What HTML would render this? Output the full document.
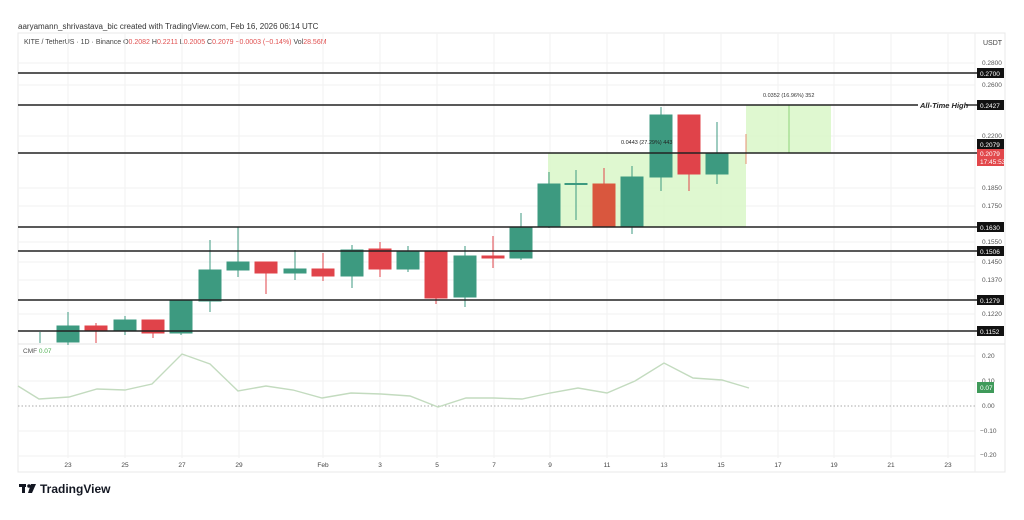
<!DOCTYPE html>
<html><head><meta charset="utf-8"><style>
html,body{margin:0;padding:0;background:#fff;}
svg{display:block;font-family:"Liberation Sans",sans-serif;}
</style></head><body>
<svg width="1024" height="520" viewBox="0 0 1024 520" xmlns="http://www.w3.org/2000/svg">
<rect width="1024" height="520" fill="#fff"/>
<text x="18" y="29" font-size="8" fill="#333">aaryamann_shrivastava_bic created with TradingView.com, Feb 16, 2026 06:14 UTC</text>
<rect x="18" y="33" width="987" height="439" fill="none" stroke="#e8e8e8"/>
<text x="24" y="44" font-size="7" fill="#444">KITE / TetherUS · 1D · Binance  <tspan>O</tspan><tspan fill="#e05050">0.2082</tspan>  H<tspan fill="#e05050">0.2211</tspan>  L<tspan fill="#e05050">0.2005</tspan>  C<tspan fill="#e05050">0.2079  −0.0003 (−0.14%)</tspan>  Vol<tspan fill="#e05050">28.56M</tspan></text>
<text x="983" y="45" font-size="7" fill="#444">USDT</text>
<g stroke="#f2f2f2" stroke-width="1">
<line x1="68" y1="33" x2="68" y2="458"/><line x1="125" y1="33" x2="125" y2="458"/><line x1="182" y1="33" x2="182" y2="458"/><line x1="239" y1="33" x2="239" y2="458"/><line x1="323" y1="33" x2="323" y2="458"/><line x1="380" y1="33" x2="380" y2="458"/><line x1="437" y1="33" x2="437" y2="458"/><line x1="494" y1="33" x2="494" y2="458"/><line x1="550" y1="33" x2="550" y2="458"/><line x1="607" y1="33" x2="607" y2="458"/><line x1="664" y1="33" x2="664" y2="458"/><line x1="721" y1="33" x2="721" y2="458"/><line x1="778" y1="33" x2="778" y2="458"/><line x1="834" y1="33" x2="834" y2="458"/><line x1="891" y1="33" x2="891" y2="458"/><line x1="948" y1="33" x2="948" y2="458"/>
<line x1="18" y1="63" x2="975" y2="63"/><line x1="18" y1="85" x2="975" y2="85"/><line x1="18" y1="136" x2="975" y2="136"/><line x1="18" y1="188" x2="975" y2="188"/><line x1="18" y1="206" x2="975" y2="206"/><line x1="18" y1="242" x2="975" y2="242"/><line x1="18" y1="262" x2="975" y2="262"/><line x1="18" y1="280" x2="975" y2="280"/><line x1="18" y1="314" x2="975" y2="314"/>
<line x1="18" y1="356" x2="975" y2="356"/><line x1="18" y1="381" x2="975" y2="381"/><line x1="18" y1="431" x2="975" y2="431"/><line x1="18" y1="456" x2="975" y2="456"/>
</g>
<line x1="975" y1="33" x2="975" y2="472" stroke="#eee"/>
<line x1="18" y1="344" x2="1005" y2="344" stroke="#e4e4e4"/>
<rect x="548" y="153" width="198" height="74" fill="#d9f7c8" opacity="0.85"/>
<rect x="746" y="105" width="85" height="48" fill="#d9f7c8" opacity="0.85"/>
<line x1="789" y1="105" x2="789" y2="153" stroke="#8fd47a"/>
<g stroke-width="1">
<line x1="40" y1="332" x2="40" y2="343" stroke="#3d9a80"/>
<g fill="#3d9a80" stroke="#3d9a80">
<line x1="68" y1="312" x2="68" y2="345"/><rect x="57" y="326" width="22" height="16"/>
<line x1="125" y1="316" x2="125" y2="335"/><rect x="114" y="320" width="22" height="11"/>
<line x1="181" y1="300" x2="181" y2="335"/><rect x="170" y="300" width="22" height="33"/>
<line x1="210" y1="240" x2="210" y2="312"/><rect x="199" y="270" width="22" height="31"/>
<line x1="238" y1="227" x2="238" y2="277"/><rect x="227" y="262" width="22" height="8"/>
<line x1="295" y1="250" x2="295" y2="280"/><rect x="284" y="269" width="22" height="4"/>
<line x1="352" y1="245" x2="352" y2="288"/><rect x="341" y="250" width="22" height="26"/>
<line x1="408" y1="246" x2="408" y2="272"/><rect x="397" y="252" width="22" height="17"/>
<line x1="465" y1="246" x2="465" y2="307"/><rect x="454" y="256" width="22" height="41"/>
<line x1="521" y1="213" x2="521" y2="260"/><rect x="510" y="227" width="22" height="31"/>
<line x1="549" y1="172" x2="549" y2="228"/><rect x="538" y="184" width="22" height="43"/>
<line x1="576" y1="170" x2="576" y2="220"/><rect x="565" y="183.5" width="22" height="1"/>
<line x1="632" y1="166" x2="632" y2="234"/><rect x="621" y="177" width="22" height="50"/>
<line x1="661" y1="107" x2="661" y2="191"/><rect x="650" y="115" width="22" height="62"/>
<line x1="717" y1="122" x2="717" y2="184"/><rect x="706" y="153" width="22" height="21"/>
</g>
<g fill="#e0434a" stroke="#e0434a">
<line x1="96" y1="323" x2="96" y2="343"/><rect x="85" y="326" width="22" height="5"/>
<line x1="153" y1="320" x2="153" y2="338"/><rect x="142" y="320" width="22" height="13"/>
<line x1="266" y1="262" x2="266" y2="294"/><rect x="255" y="262" width="22" height="11"/>
<line x1="323" y1="253" x2="323" y2="281"/><rect x="312" y="269" width="22" height="7"/>
<line x1="380" y1="242" x2="380" y2="277"/><rect x="369" y="249" width="22" height="20"/>
<line x1="436" y1="251" x2="436" y2="304"/><rect x="425" y="251" width="22" height="47"/>
<line x1="493" y1="236" x2="493" y2="268"/><rect x="482" y="256" width="22" height="2"/>
<line x1="604" y1="168" x2="604" y2="227"/><rect x="593" y="184" width="22" height="43" fill="#d9573e" stroke="#d9573e"/>
<line x1="689" y1="115" x2="689" y2="191"/><rect x="678" y="115" width="22" height="59"/>
<line x1="746" y1="134" x2="746" y2="164" stroke="#e59070"/>
</g>
</g>
<g stroke="#222" stroke-width="1.4">
<line x1="18" y1="73" x2="978" y2="73"/>
<line x1="18" y1="105" x2="918" y2="105"/><line x1="966" y1="105" x2="978" y2="105"/>
<line x1="18" y1="153" x2="978" y2="153"/>
<line x1="18" y1="227" x2="978" y2="227"/>
<line x1="18" y1="251" x2="978" y2="251"/>
<line x1="18" y1="300" x2="978" y2="300"/>
<line x1="18" y1="331" x2="978" y2="331"/>
</g>
<text x="621" y="144" font-size="5.5" fill="#222">0.0443 (27.29%) 443</text>
<text x="763" y="97" font-size="5.5" fill="#333">0.0352 (16.96%) 352</text>
<text x="920" y="108" font-size="7.5" font-style="italic" font-weight="bold" fill="#222">All-Time High</text>
<g font-size="6.5" fill="#555">
<text x="982" y="65">0.2800</text><text x="982" y="87">0.2600</text><text x="982" y="138">0.2200</text><text x="982" y="190">0.1850</text><text x="982" y="208">0.1750</text><text x="982" y="244">0.1550</text><text x="982" y="264">0.1450</text><text x="982" y="282">0.1370</text><text x="982" y="316">0.1220</text>
<text x="982" y="358">0.20</text><text x="982" y="408">0.00</text><text x="980" y="433">−0.10</text><text x="980" y="457">−0.20</text>
</g>
<text x="982" y="383" font-size="6.5" fill="#555">0.10</text>
<g font-size="6.5" fill="#fff">
<rect x="977" y="68" width="27" height="10" fill="#111"/><text x="980" y="76">0.2700</text>
<rect x="977" y="100" width="27" height="10" fill="#111"/><text x="980" y="108">0.2427</text>
<rect x="977" y="139" width="27" height="10" fill="#111"/><text x="980" y="147">0.2079</text>
<rect x="977" y="149" width="27" height="17" fill="#e2474b"/><text x="980" y="156">0.2079</text><text x="980" y="164">17:45:53</text>
<rect x="977" y="222" width="27" height="10" fill="#111"/><text x="980" y="230">0.1630</text>
<rect x="977" y="246" width="27" height="10" fill="#111"/><text x="980" y="254">0.1506</text>
<rect x="977" y="295" width="27" height="10" fill="#111"/><text x="980" y="303">0.1279</text>
<rect x="977" y="326" width="27" height="10" fill="#111"/><text x="980" y="334">0.1152</text>
<rect x="977" y="382" width="17" height="11" fill="#3f9a5a"/><text x="980" y="390">0.07</text>
</g>
<text x="23" y="353" font-size="6.5" fill="#555">CMF <tspan fill="#4caf50">0.07</tspan></text>
<line x1="18" y1="406" x2="975" y2="406" stroke="#aaa" stroke-dasharray="1.5,2"/>
<polyline fill="none" stroke="#c3dbbf" stroke-width="1.4" points="18,386 39,399 69,397 97,389 125,390 152,384 182,354 210,364 238,391 266,386 293,390 322,398 351,393 381,394 410,396 438,407 466,398 494,398 522,399 550,393 578,388 607,393 635,381 664,363 693,378 722,380 749,388"/>
<g font-size="6.5" fill="#444" text-anchor="middle">
<text x="68" y="467">23</text><text x="125" y="467">25</text><text x="182" y="467">27</text><text x="239" y="467">29</text><text x="323" y="467">Feb</text><text x="380" y="467">3</text><text x="437" y="467">5</text><text x="494" y="467">7</text><text x="550" y="467">9</text><text x="607" y="467">11</text><text x="664" y="467">13</text><text x="721" y="467">15</text><text x="778" y="467">17</text><text x="834" y="467">19</text><text x="891" y="467">21</text><text x="948" y="467">23</text>
</g>
<g fill="#131722">
<rect x="19" y="484" width="7" height="3"/><rect x="22" y="484" width="3" height="9"/>
<circle cx="29" cy="486" r="1.8"/><polygon points="31,484 36,484 32,493 28,493"/>
</g>
<text x="40" y="493" font-size="12" font-weight="bold" fill="#131722">TradingView</text>
</svg>
</body></html>
